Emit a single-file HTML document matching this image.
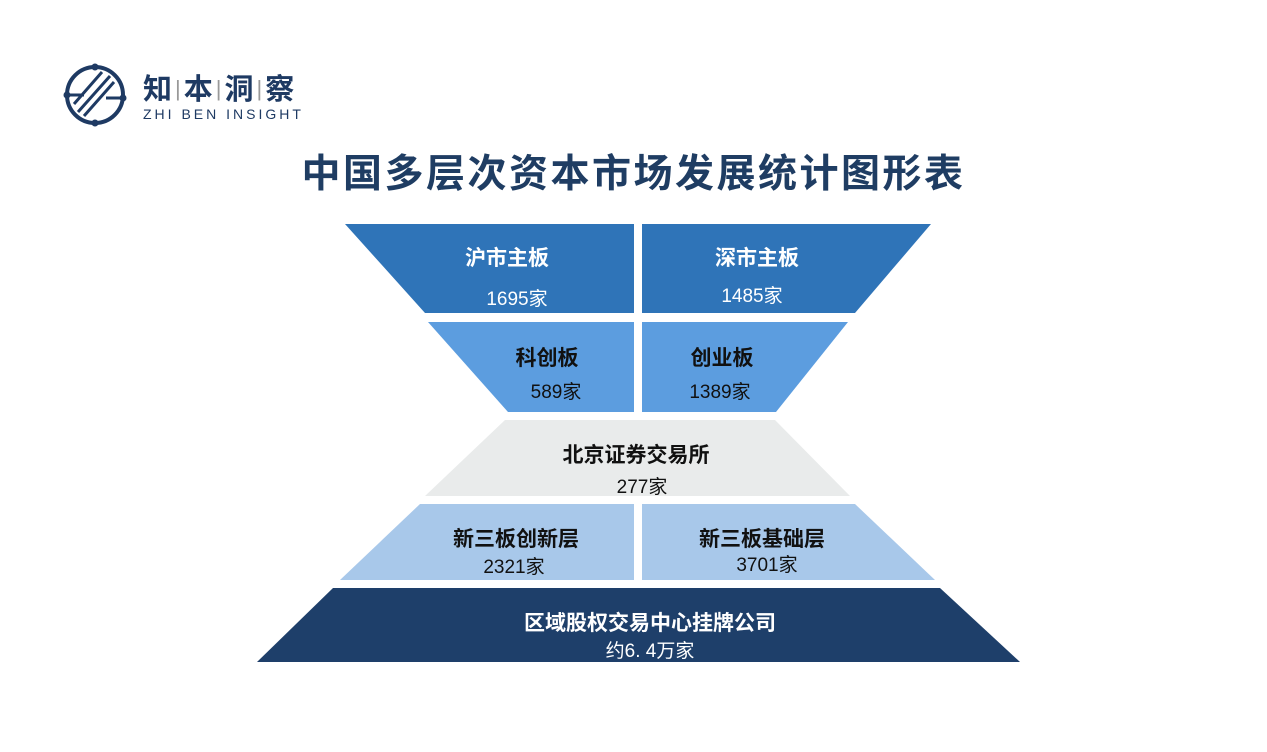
<!DOCTYPE html>
<html><head><meta charset="utf-8"><style>
body{margin:0;width:1267px;height:752px;background:#fff;overflow:hidden;position:relative;font-family:"Liberation Sans","Noto Sans CJK SC",sans-serif}
.t{position:absolute;text-align:center;width:300px;margin-left:-150px}
.s{font-weight:normal;color:#999;font-size:22px;vertical-align:3px;margin:0 3px}
</style></head><body>
<svg width="1267" height="752" style="position:absolute;left:0;top:0">
<g fill="none" stroke="#1e3a63" stroke-width="4">
<circle cx="95" cy="95" r="28"/>
</g>
<g stroke="#1e3a63" stroke-width="3">
<line x1="78" y1="112" x2="110" y2="76"/><line x1="84" y1="116" x2="114" y2="82"/><line x1="74" y1="104" x2="102" y2="72"/>
<line x1="70" y1="95" x2="84" y2="95"/><line x1="106" y1="98" x2="120" y2="98"/>
</g>
<g fill="#1e3a63"><circle cx="67" cy="95" r="3.5"/><circle cx="123" cy="98" r="3.5"/><circle cx="95" cy="67" r="3.5"/><circle cx="95" cy="123" r="3.5"/></g>
<polygon points="345,224 634,224 634,313 425,313" fill="#2f74b8"/>
<polygon points="642,224 931,224 855,313 642,313" fill="#2f74b8"/>
<polygon points="428,322 634,322 634,412 508,412" fill="#5c9ddf"/>
<polygon points="642,322 848,322 776,412 642,412" fill="#5c9ddf"/>
<polygon points="505,420 775,420 850,496 425,496" fill="#e9ebeb"/>
<polygon points="420,504 634,504 634,580 340,580" fill="#a8c8ea"/>
<polygon points="642,504 855,504 935,580 642,580" fill="#a8c8ea"/>
<polygon points="333,588 940,588 1020,662 257,662" fill="#1e3f6a"/>
</svg>
<div style="position:absolute;left:143px;top:66px;font-size:29px;font-weight:bold;color:#1e3a63">知<span class="s">|</span>本<span class="s">|</span>洞<span class="s">|</span>察</div>
<div style="position:absolute;left:143px;top:106px;font-size:14px;color:#1e3a63;letter-spacing:3px">ZHI BEN INSIGHT</div>
<div style="position:absolute;left:0;width:1267px;top:143px;text-align:center;font-size:39px;font-weight:bold;color:#1f3d63;letter-spacing:2.5px">中国多层次资本市场发展统计图形表</div>
<div class="t" style="left:507px;top:242px;color:#fff;font-size:21px;font-weight:bold">沪市主板</div>
<div class="t" style="left:517px;top:284px;color:#fff;font-size:19px">1695家</div>
<div class="t" style="left:757px;top:242px;color:#fff;font-size:21px;font-weight:bold">深市主板</div>
<div class="t" style="left:752px;top:281px;color:#fff;font-size:19px">1485家</div>
<div class="t" style="left:547px;top:342px;color:#111;font-size:21px;font-weight:bold">科创板</div>
<div class="t" style="left:556px;top:377px;color:#111;font-size:19px">589家</div>
<div class="t" style="left:722px;top:342px;color:#111;font-size:21px;font-weight:bold">创业板</div>
<div class="t" style="left:720px;top:377px;color:#111;font-size:19px">1389家</div>
<div class="t" style="left:636px;top:439px;color:#111;font-size:21px;font-weight:bold">北京证券交易所</div>
<div class="t" style="left:642px;top:472px;color:#111;font-size:19px">277家</div>
<div class="t" style="left:516px;top:523px;color:#111;font-size:21px;font-weight:bold">新三板创新层</div>
<div class="t" style="left:514px;top:552px;color:#111;font-size:19px">2321家</div>
<div class="t" style="left:762px;top:523px;color:#111;font-size:21px;font-weight:bold">新三板基础层</div>
<div class="t" style="left:767px;top:550px;color:#111;font-size:19px">3701家</div>
<div class="t" style="left:650px;top:607px;width:400px;margin-left:-200px;color:#fff;font-size:21px;font-weight:bold">区域股权交易中心挂牌公司</div>
<div class="t" style="left:650px;top:636px;color:#fff;font-size:19px">约6. 4万家</div>
</body></html>
